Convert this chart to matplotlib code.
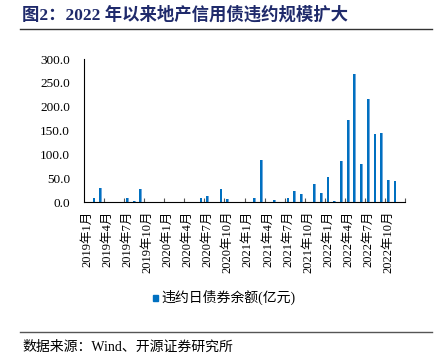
import matplotlib
matplotlib.use("Agg")
import matplotlib.pyplot as plt
from matplotlib.lines import Line2D
from matplotlib.patches import Rectangle

plt.rcParams['font.family'] = ['Liberation Serif', 'Noto Sans CJK SC']

months = [f"{y}年{m}月" for y in range(2019, 2023) for m in range(1, 13)][:47]
values = [0, 10, 30, 0, 0, 0, 8, 2.5, 28, 0,
          0, 0, 0, 0, 0, 0, 0, 8, 13, 0,
          27, 6.5, 0, 0, 0, 8.5, 88, 0, 5, 1,
          8.5, 24, 17.5, 0, 38, 19.5, 54, 2, 87, 172,
          268, 81, 216, 142, 145, 46, 45]
series_name = "违约日债券余额(亿元)"
title = "图2：2022 年以来地产信用债违约规模扩大"
source = "数据来源：Wind、开源证券研究所"
yticks = [0, 50, 100, 150, 200, 250, 300]

W, H = 437, 355
fig = plt.figure(figsize=(W / 100, H / 100), dpi=100)
ax = fig.add_axes([84 / W, 1 - 202.3 / H, (405 - 84) / W, (202.3 - 59) / H])

x = list(range(len(values)))
ax.bar(x, values, width=0.42, color='#0070C0', zorder=2)
ax.bar([i + 0.15 for i in x], values, width=0.12, color='#6FA8DC', zorder=3)

ax.set_xlim(-0.5, len(values) - 0.5)
ax.set_ylim(0, 300)
ax.set_yticks(yticks)
ax.set_yticklabels([f"{v:.1f}" for v in yticks], fontsize=9.5)
ax.tick_params(axis='y', length=0, pad=10)

lab_idx = list(range(0, len(values), 3))
ax.set_xticks(lab_idx)
ax.set_xticklabels([months[i] for i in lab_idx], rotation=90, fontsize=9,
                   family=['Liberation Serif', 'Noto Sans CJK SC'])
ax.tick_params(axis='x', length=0, pad=6)
ax.set_xticks([i + 2.5 for i in range(0, len(values) - 1, 3)], minor=True)
ax.tick_params(axis='x', which='minor', direction='in', length=3, color='#555555', width=0.8)

for s in ['top', 'right']:
    ax.spines[s].set_visible(False)
ax.spines['left'].set_linewidth(0.8)
ax.spines['bottom'].set_linewidth(0.8)

# legend
fig.patches.append(Rectangle((153 / W, 1 - 300.5 / H), 5 / W, 6 / H,
                             transform=fig.transFigure, color='#0070C0'))
fig.text(161 / W, 1 - 297.5 / H, series_name, fontsize=10, va='center', ha='left',
         family=['Liberation Serif', 'Noto Sans CJK SC'])

# title and source
fig.text(22 / W, 1 - 15 / H, title, fontsize=12.5, fontweight='bold', color='#1F2A6B',
         va='center', ha='left', family=['Liberation Serif', 'Noto Sans CJK SC'])
fig.add_artist(Line2D([20 / W, 432 / W], [1 - 29 / H, 1 - 29 / H], color='#333333', lw=1,
                      transform=fig.transFigure))
fig.add_artist(Line2D([20 / W, 432 / W], [1 - 332 / H, 1 - 332 / H], color='#555555', lw=1,
                      transform=fig.transFigure))
fig.text(22 / W, 1 - 347 / H, source, fontsize=10, va='center', ha='left',
         family=['Liberation Serif', 'Noto Sans CJK SC'])

fig.savefig("out.png", dpi=100)
